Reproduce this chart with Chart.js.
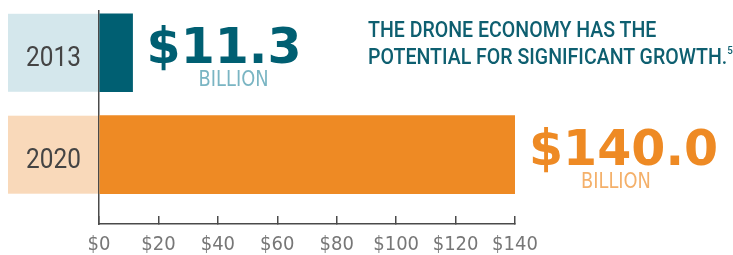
<!DOCTYPE html>
<html>
<head>
<meta charset="utf-8">
<script src="https://cdn.jsdelivr.net/npm/chart.js@4"></script>
<style>
  html, body { margin: 0; padding: 0; background: #fff; }
  #wrap { position: relative; width: 733px; height: 255px; }
  #title {
    position: absolute; left: 368px; top: 16px;
    font-family: Roboto, 'DejaVu Sans Condensed', sans-serif; font-weight: 500;
    font-size: 22px; line-height: 27px; color: #0e5f70; white-space: nowrap;
    transform-origin: 0 0;
  }
  #title sup { font-size: 11px; vertical-align: top; position: relative; top: -6px; }
</style>
</head>
<body>
<div id="wrap">
  <canvas id="chart" width="733" height="255"></canvas>
  <div id="title"><span id="line1">THE DRONE ECONOMY HAS THE</span><br>POTENTIAL FOR SIGNIFICANT GROWTH.<sup>5</sup></div>
</div>
<script>
// Data
const years = ['2013', '2020'];
const values = [11.3, 140.0];
const unitLabel = 'BILLION';
const tickValues = [0, 20, 40, 60, 80, 100, 120, 140];

// Styles
const narrow = "'DejaVu Sans Condensed', sans-serif";
const barColors = ['#005f72', '#ee8a24'];
const boxColors = ['#d4e7ec', '#f9d9ba'];
const unitColors = ['#7ab5c3', '#f4b06a'];
const axisColor = '#4a4a4a';

// squeeze the title to the condensed look of the original
const title = document.getElementById('title');
const line1 = document.getElementById('line1');
title.style.transform = 'scaleX(' + (288 / line1.offsetWidth) + ')';

// draw text horizontally condensed by factor sx
const condensed = (ctx, text, x, y, sx, align) => {
    ctx.save();
    ctx.translate(x, y);
    ctx.scale(sx, 1);
    ctx.textAlign = align;
    ctx.fillText(text, 0, 0);
    ctx.restore();
};

const decor = {
    id: 'decor',
    beforeDraw(chart) {
        // label boxes behind the axis line
        const ctx = chart.ctx;
        const left = chart.chartArea.left;
        chart.getDatasetMeta(0).data.forEach((bar, i) => {
            const top = bar.y - bar.height / 2;
            ctx.save();
            ctx.fillStyle = boxColors[i];
            ctx.fillRect(8, top, left - 8, bar.height);
            ctx.fillStyle = '#444444';
            ctx.font = '28px Roboto';
            ctx.textBaseline = 'alphabetic';
            condensed(ctx, years[i], (8 + left) / 2, bar.y + 13, 0.87, 'center');
            ctx.restore();
        });
    },
    afterDatasetsDraw(chart) {
        // value callouts next to each bar
        const ctx = chart.ctx;
        chart.getDatasetMeta(0).data.forEach((bar, i) => {
            const top = bar.y - bar.height / 2;
            const x0 = bar.x + 14;
            ctx.save();
            ctx.textAlign = 'left';
            ctx.textBaseline = 'alphabetic';
            ctx.fillStyle = barColors[i];
            ctx.font = 'bold 49px "DejaVu Sans"';
            ctx.fillText('$' + values[i].toFixed(1), x0, top + 49);
            ctx.fillStyle = unitColors[i];
            ctx.font = '22px ' + narrow;
            condensed(ctx, unitLabel, x0 + 52, top + 72, 0.9, 'left');
            ctx.restore();
        });
    }
};

new Chart(document.getElementById('chart'), {
    type: 'bar',
    data: {
        datasets: [{
            data: values.map((v, i) => ({ x: v, y: i })),
            backgroundColor: barColors,
            borderWidth: 0,
            barThickness: 78
        }]
    },
    options: {
        indexAxis: 'y',
        responsive: false,
        animation: false,
        events: [],
        layout: { padding: { left: 99, right: 218, top: 11, bottom: -19 } },
        plugins: { legend: { display: false }, tooltip: { enabled: false } },
        scales: {
            x: {
                type: 'linear',
                position: 'bottom',
                min: 0,
                max: 140,
                afterBuildTicks: scale => { scale.ticks = tickValues.map(v => ({ value: v })); },
                border: { display: true, color: axisColor, width: 1.5 },
                grid: { display: true, drawOnChartArea: false, drawTicks: true, tickLength: -8, color: axisColor, lineWidth: 1.5 },
                ticks: {
                    padding: 19,
                    color: '#777777',
                    autoSkip: false,
                    maxRotation: 0,
                    font: { family: narrow, size: 20, lineHeight: 1 },
                    callback: v => '$' + v
                }
            },
            y: {
                type: 'linear',
                reverse: true,
                offset: false,
                min: -0.41,
                max: 1.68,
                ticks: { display: false },
                grid: { display: false, drawTicks: false },
                border: { display: true, color: axisColor, width: 1.5 }
            }
        }
    },
    plugins: [decor]
});
</script>
</body>
</html>
